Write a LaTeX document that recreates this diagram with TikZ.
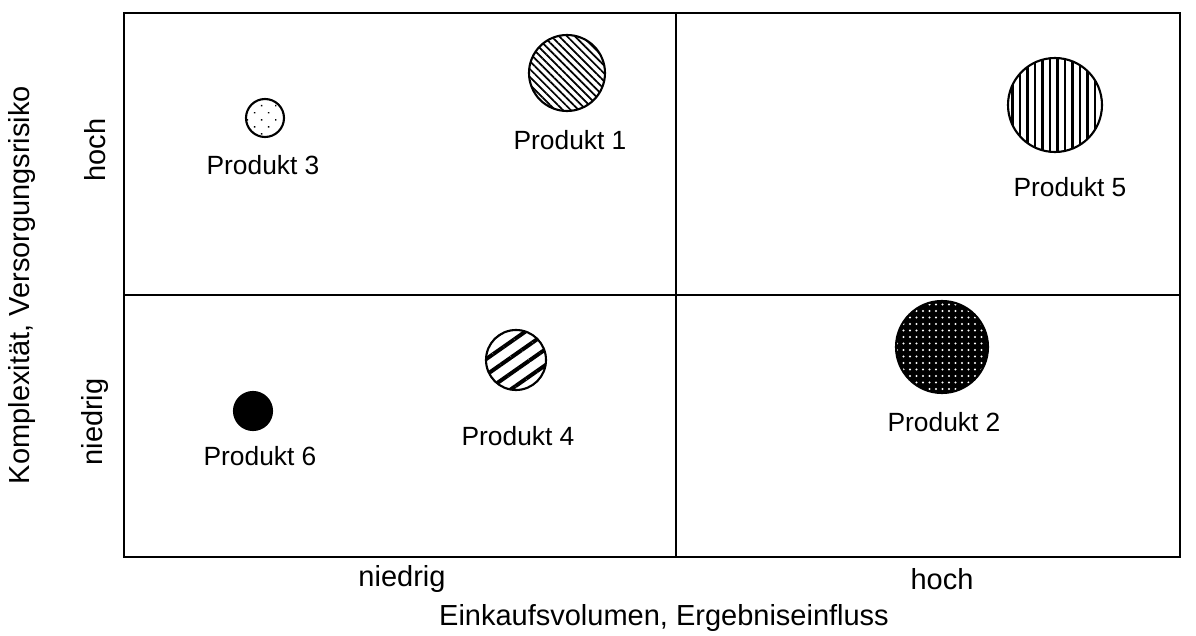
\documentclass[tikz,border=0pt]{standalone}
\usepackage{fontspec}
\setmainfont{Liberation Sans}
\usetikzlibrary{patterns.meta}
\usetikzlibrary{positioning}

\begin{document}
\begin{tikzpicture}[
	x=0.2mm, y=-0.2mm,
	txt/.style={font=\fontsize{15}{18}\selectfont, inner sep=0pt},
	axis/.style={font=\fontsize{16.5}{19}\selectfont, inner sep=0pt},
	field/.style={draw, line width=0.85pt},
	prod/.style={circle, draw, line width=1.2pt, inner sep=0pt},
	]

	\useasboundingbox (0,0) rectangle (1196,636);

	% Matrix
	\draw[field] (124,13) rectangle (1180,557);
	\draw[field] (676,13) -- (676,557);
	\draw[field] (124,295) -- (1180,295);

	% Products
	\node[prod, minimum size=38*0.2mm, pattern={Dots[distance=2mm, angle=45, radius=0.2mm]}] (p3) at (265,118) {};
	\node[prod, minimum size=76*0.2mm, pattern={Lines[angle=-45, distance=1.1mm, line width=0.35mm]}] (p1) at (567,73) {};
	\node[prod, minimum size=94*0.2mm, pattern={Lines[angle=90, distance=1.5mm, line width=0.45mm]}] (p5) at (1055,105) {};
	\node[prod, minimum size=60*0.2mm, pattern={Lines[angle=35, distance=2.6mm, line width=0.8mm]}] (p4) at (516,360) {};
	\node[prod, minimum size=92*0.2mm, preaction={fill=black}, pattern color=white, pattern={Dots[distance=1.3mm, radius=0.22mm]}] (p2) at (942,347) {};
	\node[prod, minimum size=38*0.2mm, fill=black] (p6) at (253,411) {};

	\node[txt] (l3) at (263,165) {Produkt 3};
	\node[txt] (l1) at (570,140) {Produkt 1};
	\node[txt] (l5) at (1070,187) {Produkt 5};
	\node[txt] (l4) at (518,436) {Produkt 4};
	\node[txt] (l2) at (944,422) {Produkt 2};
	\node[txt] (l6) at (260,456) {Produkt 6};

	% Axes
	\node[axis] (xlo) at (402,579) {niedrig};
	\node[axis] (xhi) at (942,579) {hoch};
	\node[axis] (xlab) at (664,618) {Einkaufsvolumen, Ergebniseinfluss};

	\node[axis, rotate=90] (yhi) at (95,150) {hoch};
	\node[axis, rotate=90] (ylo) at (95,422) {niedrig};
	\node[axis, rotate=90] (ylab) at (22,285) {Komplexität, Versorgungsrisiko};

\end{tikzpicture}
\end{document}
